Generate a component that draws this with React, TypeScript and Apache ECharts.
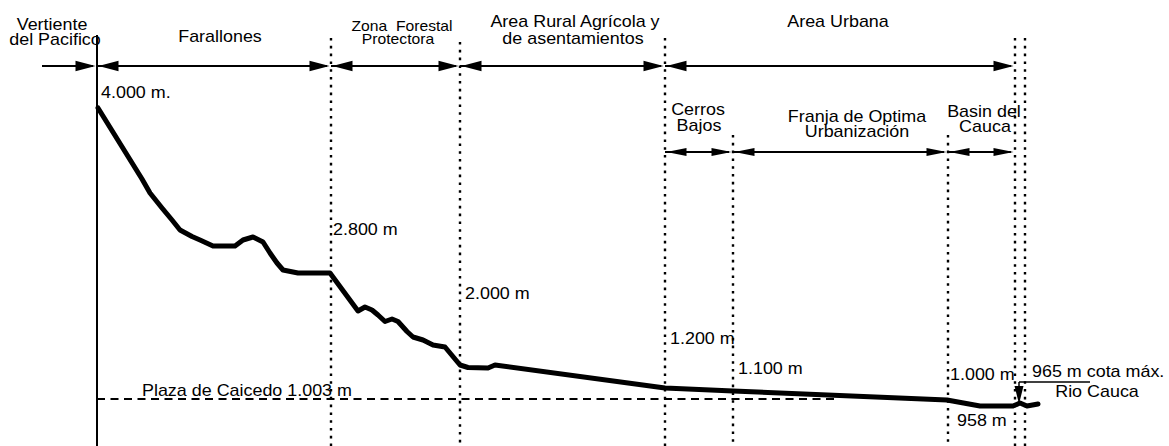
import React, { useEffect, useRef } from "react";
import * as echarts from "echarts";

const W = 1169;
const H = 446;

// Schematic cross-section of the terrain (drawing units: x = distance, y = depth from top)
const profileX = [98, 142, 150, 158, 162, 172, 180, 192, 200, 213, 235, 243, 253, 263, 270, 277, 283, 298, 330, 358, 365, 372, 378, 385, 392, 398, 407, 413, 423, 433, 445, 460, 468, 488, 495, 665, 733, 947, 980, 1013, 1020, 1027, 1038];
const profileY = [108, 179, 193, 203, 208, 220, 230, 236.5, 240, 246, 246, 240, 237, 242, 253, 263, 270, 273, 273, 311, 307, 310, 315, 321.5, 319, 321.5, 331.5, 337, 340, 345, 347, 365, 367.5, 368, 365, 388, 391, 400, 406, 406, 403, 406, 404];

// Zones (top row) and urban sub-zones (second row)
const zoneBounds = [97, 331, 460, 665, 1015];
const zoneNames = ["Farallones", "Zona  Forestal / Protectora", "Area Rural Agrícola y / de asentamientos", "Area Urbana"];
const pacificStart = 42;
const subBounds = [665, 733, 948, 1015];
const subNames = ["Cerros Bajos", "Franja de Optima Urbanización", "Basin del Cauca"];

// Vertical divisions: x, top, bottom
const dividerX = [331, 460, 665, 733, 948, 1015, 1025];
const dividerTop = [38, 42, 38, 135, 135, 38, 38];
const drawingBottom = 446;

// Reference lines
const plazaLevel = { y: 399, from: 97, to: 835 };
const originAxis = { x: 97, top: 35, bottom: 446 };
const riverMark = { x: 1019, levelY: 382, endX: 1090, waterY: 404 };

// Row levels of the zone arrows
const zoneRowY = 66;
const subRowY = 152;

// Annotations: text, x, y (cap centre), align, font size
const labelText = [
  "Vertiente", "del Pacifico", "Farallones", "Zona  Forestal", "Protectora",
  "Area Rural Agrícola y", "de asentamientos", "Area Urbana",
  "Cerros", "Bajos", "Franja de Optima", "Urbanización", "Basin del", "Cauca",
  "4.000 m.", "2.800 m", "2.000 m", "1.200 m", "1.100 m", "1.000 m", "958 m",
  "965 m cota máx.", "Rio Cauca", "Plaza de Caicedo 1.003 m",
];
const labelX = [52, 55, 220, 402, 398, 575, 573, 838, 698, 699, 857, 857, 984, 985, 101, 333, 465, 670, 738, 950, 957, 1032, 1097, 142];
const labelY = [24, 39, 36, 25, 38, 21, 37.5, 21, 109, 125, 116, 131, 111, 126, 92, 229, 293, 337.5, 367.5, 374, 419.5, 371, 391, 390];
const labelAlign = ["center", "center", "center", "center", "center", "center", "center", "center", "center", "center", "center", "center", "center", "center", "left", "left", "left", "left", "left", "left", "left", "left", "center", "left"];
const labelSize = [16, 16, 16, 14, 14, 16, 16, 16, 16, 16, 16, 16, 16, 16, 16, 16, 16, 16, 16, 16, 16, 16, 16, 16];

const FONT = '"Liberation Sans", Arial, sans-serif';
const INK = "#000";

function arrowRenderer(headLen: number, headHalf: number, lineW: number) {
  return (params: any, api: any) => {
    const x1 = api.value(0);
    const x2 = api.value(1);
    const y = api.value(2);
    const both = api.value(3) === 2;
    const p1 = api.coord([x1, y]);
    const p2 = api.coord([x2, y]);
    const gap = 1.5;
    const children: any[] = [
      { type: "line", shape: { x1: p1[0], y1: p1[1], x2: p2[0] - 4, y2: p2[1] }, style: { stroke: INK, lineWidth: lineW } },
    ];
    if (both) {
      const tx = p1[0] + gap;
      children.push({
        type: "polygon",
        shape: { points: [[tx, p1[1]], [tx + headLen, p1[1] - headHalf], [tx + headLen, p1[1] + headHalf]] },
        style: { fill: INK },
      });
    }
    const tx2 = p2[0] - gap;
    children.push({
      type: "polygon",
      shape: { points: [[tx2, p2[1]], [tx2 - headLen, p2[1] - headHalf], [tx2 - headLen, p2[1] + headHalf]] },
      style: { fill: INK },
    });
    return { type: "group", children };
  };
}

export default function App() {
  const ref = useRef<HTMLDivElement>(null);

  useEffect(() => {
    document.body.style.margin = "0";
    if (!ref.current) return;
    const chart = echarts.init(ref.current, null, { renderer: "svg" });

    const topArrows: number[][] = [[pacificStart, zoneBounds[0], zoneRowY, 1]];
    for (let i = 0; i < zoneBounds.length - 1; i++) topArrows.push([zoneBounds[i], zoneBounds[i + 1], zoneRowY, 2]);
    const subArrows: number[][] = [];
    for (let i = 0; i < subBounds.length - 1; i++) subArrows.push([subBounds[i], subBounds[i + 1], subRowY, 2]);

    const dividers = dividerX.map((x, i) => [x, dividerTop[i], drawingBottom]);
    const labels = labelText.map((t, i) => [labelX[i], labelY[i], i]);

    const option: any = {
      animation: false,
      backgroundColor: "#fff",
      grid: { left: 0, right: 0, top: 0, bottom: 0 },
      xAxis: { type: "value", min: 0, max: W, show: false },
      yAxis: { type: "value", min: 0, max: H, inverse: true, show: false },
      series: [
        {
          type: "custom",
          name: "divisions",
          silent: true,
          z: 1,
          data: dividers,
          renderItem: (params: any, api: any) => {
            const a = api.coord([api.value(0), api.value(1)]);
            const b = api.coord([api.value(0), api.value(2)]);
            return {
              type: "line",
              shape: { x1: a[0], y1: a[1], x2: b[0], y2: b[1] },
              style: { stroke: INK, lineWidth: 2.4, lineDash: [2.6, 5.2], lineCap: "butt" },
            };
          },
        },
        {
          type: "custom",
          name: "plaza",
          silent: true,
          z: 1,
          data: [[plazaLevel.from, plazaLevel.to, plazaLevel.y]],
          renderItem: (params: any, api: any) => {
            const a = api.coord([api.value(0), api.value(2)]);
            const b = api.coord([api.value(1), api.value(2)]);
            return {
              type: "line",
              shape: { x1: a[0], y1: a[1], x2: b[0], y2: b[1] },
              style: { stroke: INK, lineWidth: 2, lineDash: [8, 5.5] },
            };
          },
        },
        {
          type: "custom",
          name: "origin",
          silent: true,
          z: 2,
          data: [[originAxis.x, originAxis.top, originAxis.bottom]],
          renderItem: (params: any, api: any) => {
            const a = api.coord([api.value(0), api.value(1)]);
            const b = api.coord([api.value(0), api.value(2)]);
            return {
              type: "line",
              shape: { x1: a[0], y1: a[1], x2: b[0], y2: b[1] },
              style: { stroke: INK, lineWidth: 2 },
            };
          },
        },
        {
          type: "custom",
          name: "zones",
          silent: true,
          z: 3,
          data: topArrows,
          renderItem: arrowRenderer(20, 5.3, 2),
        },
        {
          type: "custom",
          name: "subzones",
          silent: true,
          z: 3,
          data: subArrows,
          renderItem: arrowRenderer(20, 4, 2),
        },
        {
          type: "custom",
          name: "river",
          silent: true,
          z: 3,
          data: [[riverMark.x, riverMark.endX, riverMark.levelY, riverMark.waterY]],
          renderItem: (params: any, api: any) => {
            const a = api.coord([api.value(0), api.value(2)]);
            const b = api.coord([api.value(1), api.value(2)]);
            const t = api.coord([api.value(0), api.value(3)]);
            return {
              type: "group",
              children: [
                { type: "line", shape: { x1: a[0], y1: a[1], x2: b[0], y2: b[1] }, style: { stroke: INK, lineWidth: 1.5 } },
                { type: "line", shape: { x1: a[0], y1: a[1], x2: t[0], y2: t[1] - 10 }, style: { stroke: INK, lineWidth: 1.5 } },
                {
                  type: "polygon",
                  shape: { points: [[t[0], t[1]], [t[0] - 4.5, t[1] - 18], [t[0] + 4.5, t[1] - 18]] },
                  style: { fill: INK },
                },
              ],
            };
          },
        },
        {
          type: "line",
          name: "perfil",
          silent: true,
          z: 4,
          symbol: "none",
          data: profileX.map((x, i) => [x, profileY[i]]),
          lineStyle: { color: INK, width: 5, join: "round", cap: "round" },
        },
        {
          type: "custom",
          name: "labels",
          silent: true,
          z: 5,
          data: labels,
          renderItem: (params: any, api: any) => {
            const i = api.value(2);
            const p = api.coord([api.value(0), api.value(1)]);
            const align = labelAlign[i];
            return {
              type: "text",
              x: p[0],
              y: p[1] + 1,
              scaleX: 1.12,
              style: {
                text: labelText[i],
                font: `${labelSize[i]}px ${FONT}`,
                fill: INK,
                align,
                verticalAlign: "middle",
                textAlign: align,
                textVerticalAlign: "middle",
              },
            };
          },
        },
      ],
    };
    chart.setOption(option);
    return () => chart.dispose();
  }, []);

  return <div ref={ref} style={{ width: W, height: H }} />;
}
